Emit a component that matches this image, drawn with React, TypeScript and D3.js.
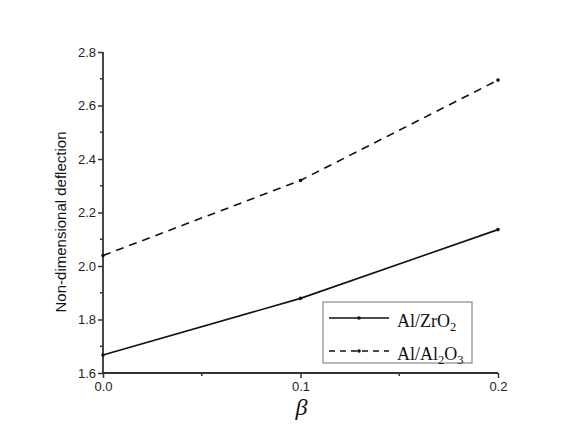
import React, { useRef, useEffect } from "react";
import * as d3 from "d3";

const betaValues = [0.0, 0.1, 0.2];
const zro2Values = [1.667, 1.879, 2.136];
const al2o3Values = [2.039, 2.32, 2.695];
const xTicks = [0.0, 0.1, 0.2];
const yTicks = [1.6, 1.8, 2.0, 2.2, 2.4, 2.6, 2.8];
const xMinorTicks = [0.05, 0.15];
const yMinorTicks = [1.7, 1.9, 2.1, 2.3, 2.5, 2.7];

const seriesList = [
  { name: "ZrO", sub: "2", values: zro2Values, dash: "", legendDash: "" },
  { name: "Al", sub: "2", tail: "O", tailSub: "3", values: al2o3Values, dash: "8,6", legendDash: "6,5" },
];

export default function App() {
  const svgRef = useRef<SVGSVGElement>(null);

  useEffect(() => {
    if (!svgRef.current) return;
    const svg = d3.select(svgRef.current);
    svg.selectAll("*").remove();

    const width = 580;
    const height = 448;
    const margin = { top: 52, right: 82, bottom: 75, left: 103 };
    const innerWidth = width - margin.left - margin.right;
    const innerHeight = height - margin.top - margin.bottom;

    const x = d3.scaleLinear().domain([0, 0.2]).range([0, innerWidth]);
    const y = d3.scaleLinear().domain([1.6, 2.8]).range([innerHeight, 0]);

    const g = svg.append("g").attr("transform", `translate(${margin.left},${margin.top})`);
    const axisColor = "#333";
    const tickFont = "Arial, 'Liberation Sans', sans-serif";
    const serif = "'Liberation Serif', 'Times New Roman', serif";

    // axes
    const xAxis = g.append("g").attr("transform", `translate(0,${innerHeight})`)
      .call(d3.axisBottom(x).tickValues(xTicks).tickSize(5).tickFormat(d3.format(".1f")));
    xAxis.append("g").selectAll("line").data(xMinorTicks).join("line")
      .attr("x1", d => x(d)).attr("x2", d => x(d)).attr("y1", 0).attr("y2", 3)
      .attr("stroke", axisColor);
    const yAxis = g.append("g")
      .call(d3.axisLeft(y).tickValues(yTicks).tickSize(5).tickFormat(d3.format(".1f")));
    yAxis.append("g").selectAll("line").data(yMinorTicks).join("line")
      .attr("x1", 0).attr("x2", -3).attr("y1", d => y(d)).attr("y2", d => y(d))
      .attr("stroke", axisColor);

    [xAxis, yAxis].forEach(ax => {
      ax.selectAll("path, line").attr("stroke", axisColor).attr("stroke-width", 1.5);
      ax.selectAll("text").style("font-family", tickFont).style("font-size", "13px").style("fill", "#222");
    });
    xAxis.select(".domain").attr("d", `M0,0H${innerWidth}`).attr("stroke-width", 2);
    yAxis.select(".domain").attr("d", `M0,${innerHeight}V0`).attr("stroke-width", 1.8);
    yAxis.selectAll(".tick text").attr("x", -7);
    xAxis.selectAll(".tick text").attr("y", 9);

    // lines
    const line = d3.line<number>()
      .x((_, i) => x(betaValues[i]))
      .y(d => y(d));

    seriesList.forEach(s => {
      g.append("path")
        .datum(s.values)
        .attr("fill", "none")
        .attr("stroke", "#111")
        .attr("stroke-width", 1.6)
        .attr("stroke-dasharray", s.dash)
        .attr("d", line);
      g.selectAll(null).data(s.values).join("circle")
        .attr("cx", (_, i) => x(betaValues[i]))
        .attr("cy", d => y(d))
        .attr("r", 1.8)
        .attr("fill", "#111");
    });

    // legend
    const legend = g.append("g").attr("transform", `translate(${323 - margin.left},${302 - margin.top})`);
    legend.append("rect")
      .attr("width", 149).attr("height", 61)
      .attr("fill", "#fff").attr("stroke", "#888").attr("stroke-width", 1.2);
    seriesList.forEach((s, i) => {
      const ry = 16 + i * 33;
      legend.append("line")
        .attr("x1", 6).attr("x2", 66).attr("y1", ry).attr("y2", ry)
        .attr("stroke", "#111").attr("stroke-width", 1.5)
        .attr("stroke-dasharray", s.legendDash);
      legend.append("circle").attr("cx", 36).attr("cy", ry).attr("r", 1.8).attr("fill", "#111");
      const t = legend.append("text")
        .attr("x", 74).attr("y", ry + 9)
        .style("font-family", serif)
        .style("font-size", "18px")
        .style("fill", "#111");
      t.append("tspan").text(`Al/${s.name}`);
      t.append("tspan").attr("dy", 4).style("font-size", "12.5px").text(s.sub);
      if (s.tail) {
        t.append("tspan").attr("dy", -4).text(s.tail);
        t.append("tspan").attr("dy", 4).style("font-size", "12.5px").text(s.tailSub);
      }
    });

    // axis labels
    g.append("text")
      .attr("transform", "rotate(-90)")
      .attr("x", -(222 - margin.top))
      .attr("y", 66 - margin.left)
      .style("text-anchor", "middle")
      .style("font-family", tickFont)
      .style("font-size", "15px")
      .style("fill", "#111")
      .text("Non-dimensional deflection");

    g.append("text")
      .attr("x", innerWidth / 2 + 1)
      .attr("y", 415 - margin.top)
      .style("text-anchor", "middle")
      .style("font-family", serif)
      .style("font-style", "italic")
      .style("font-size", "24px")
      .style("fill", "#111")
      .text("β");
  }, []);

  return <svg ref={svgRef} width={580} height={448} style={{ display: "block", position: "absolute", left: 0, top: 0, background: "#fff" }} />;
}
